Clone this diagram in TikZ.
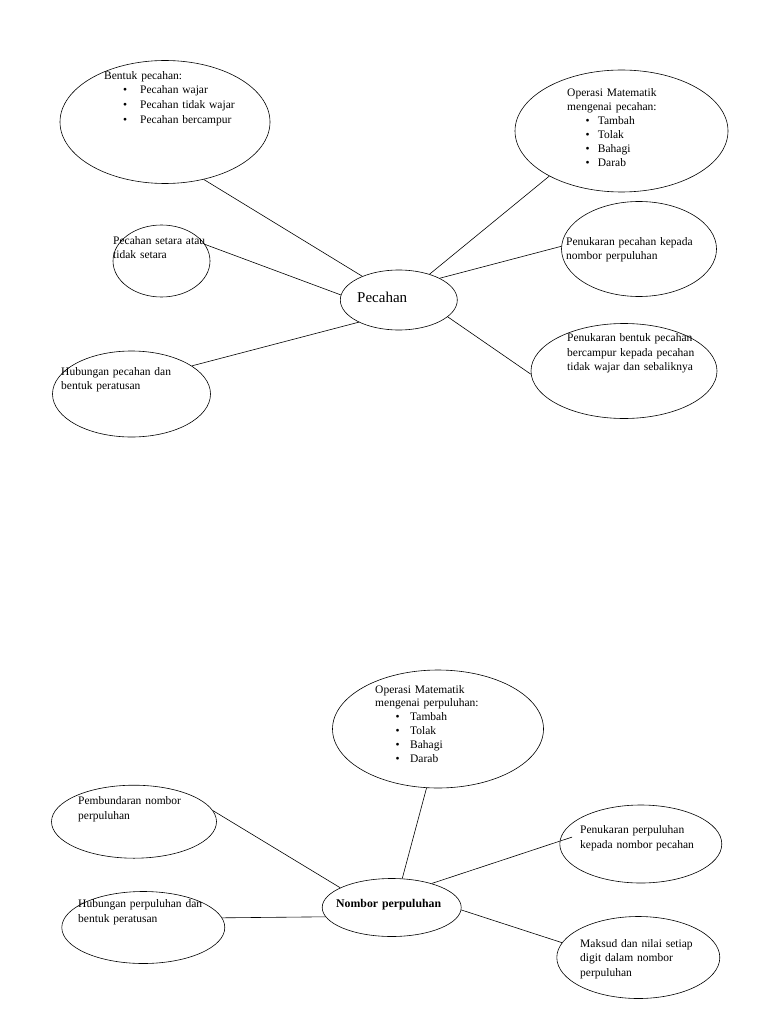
\documentclass[tikz,border=0pt]{standalone}
\usepackage{fontspec}
\setmainfont{Liberation Serif}
\usetikzlibrary{shapes.geometric}
\newcommand\bt[2]{\hspace*{#1}\makebox[#2][l]{\textbullet}}
\begin{document}
\begin{tikzpicture}[x=1pt,y=-1pt,
  ell/.style={draw, ellipse, inner sep=0pt, line width=0.6pt},
  txt/.style={inner sep=0pt, anchor=base west, align=left, text width=190pt,
    font=\fontsize{11.5}{14.5}\selectfont},
  con/.style={line width=0.6pt}]
\useasboundingbox[fill=white] (0,0) rectangle (768,1024);

% ---------- top diagram: Pecahan ----------
\node[ell, minimum width=210pt, minimum height=123pt] (bentuk) at (165,122) {};
\node[ell, minimum width=213pt, minimum height=122pt] (opA) at (621.5,131) {};
\node[ell, minimum width=97pt, minimum height=72pt] (setara) at (161.5,261) {};
\node[ell, minimum width=117pt, minimum height=60pt] (pecahan) at (398.8,300) {};
\node[ell, minimum width=155pt, minimum height=95pt] (tukarA) at (639,249) {};
\node[ell, minimum width=186pt, minimum height=95pt] (tukarB) at (624,371) {};
\node[ell, minimum width=158pt, minimum height=86pt] (hubA) at (131.5,394) {};

\node[txt, font=\fontsize{11.5}{15}\selectfont] (tBentuk) at (104,80)
  {Bentuk pecahan:\\[-1.5pt]
   \bt{19pt}{17pt}Pecahan wajar\\
   \bt{19pt}{17pt}Pecahan tidak wajar\\
   \bt{19pt}{17pt}Pecahan bercampur};
\node[txt, font=\fontsize{11.5}{14}\selectfont] (tOpA) at (567,97)
  {Operasi Matematik\\
   mengenai pecahan:\\
   \bt{18.3pt}{12.4pt}Tambah\\
   \bt{18.3pt}{12.4pt}Tolak\\
   \bt{18.3pt}{12.4pt}Bahagi\\
   \bt{18.3pt}{12.4pt}Darab};
\node[txt] (tSetara) at (113,244) {Pecahan setara atau\\tidak setara};
\node[txt, font=\fontsize{15}{18}\selectfont] (tPecahan) at (357,302) {Pecahan};
\node[txt] (tTukarA) at (566,245) {Penukaran pecahan kepada\\nombor perpuluhan};
\node[txt] (tTukarB) at (567,341.5) {Penukaran bentuk pecahan\\bercampur kepada pecahan\\tidak wajar dan sebaliknya};
\node[txt] (tHubA) at (61,375) {Hubungan pecahan dan\\bentuk peratusan};

\draw[con] (bentuk.-56) -- (pecahan.147);
\draw[con] (opA.212) -- (pecahan.40);
\draw[con] (setara.21) -- (pecahan.175);
\draw[con] (tukarA.178) -- (pecahan.28);
\draw[con] (tukarB.182.5) -- (pecahan.-19);
\draw[con] (hubA.25) -- (pecahan.209);

% ---------- bottom diagram: Nombor perpuluhan ----------
\node[ell, minimum width=211pt, minimum height=118pt] (opB) at (438,729) {};
\node[ell, minimum width=165pt, minimum height=73pt] (bundar) at (134,821.7) {};
\node[ell, minimum width=163pt, minimum height=72pt] (hubB) at (143.3,927.5) {};
\node[ell, minimum width=139pt, minimum height=58pt] (nombor) at (391.7,907.5) {};
\node[ell, minimum width=162pt, minimum height=78pt] (tukarC) at (640.8,844) {};
\node[ell, minimum width=163pt, minimum height=82pt] (maksud) at (638.3,957.5) {};

\node[txt, font=\fontsize{11.5}{13.8}\selectfont] (tOpB) at (375,693)
  {Operasi Matematik\\
   mengenai perpuluhan:\\
   \bt{20.5pt}{14.5pt}Tambah\\
   \bt{20.5pt}{14.5pt}Tolak\\
   \bt{20.5pt}{14.5pt}Bahagi\\
   \bt{20.5pt}{14.5pt}Darab};
\node[txt, font=\fontsize{11.5}{15}\selectfont] (tBundar) at (78,804) {Pembundaran nombor\\perpuluhan};
\node[txt, font=\fontsize{11.5}{15}\selectfont] (tHubB) at (78,907) {Hubungan perpuluhan dan\\bentuk peratusan};
\node[txt, font=\fontsize{11.8}{15}\selectfont\bfseries] (tNombor) at (336,907) {Nombor perpuluhan};
\node[txt, font=\fontsize{11.5}{15}\selectfont] (tTukarC) at (580,833) {Penukaran perpuluhan\\kepada nombor pecahan};
\node[txt, font=\fontsize{11.5}{14.7}\selectfont] (tMaksud) at (580,947) {Maksud dan nilai setiap\\digit dalam nombor\\perpuluhan};

\draw[con] (opB.259) -- (nombor.70);
\draw[con] (bundar.8) -- (nombor.159);
\draw[con] (hubB.7.9) -- (nombor.188);
\draw[con, shorten <=-13pt] (tukarC.178) -- (nombor.31);
\draw[con] (maksud.169) -- (nombor.-2);
\end{tikzpicture}
\end{document}
